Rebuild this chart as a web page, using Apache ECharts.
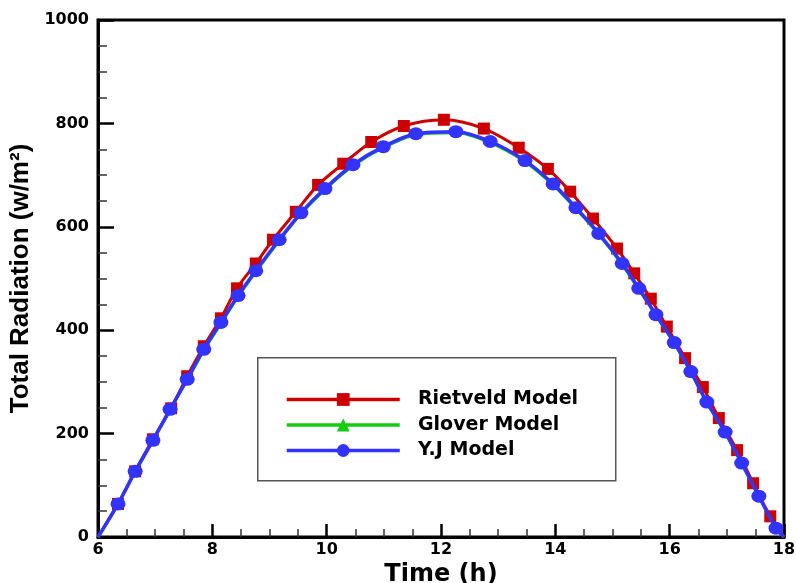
<!DOCTYPE html>
<html>
<head>
<meta charset="utf-8">
<script src="https://cdn.jsdelivr.net/npm/echarts@6/dist/echarts.min.js"></script>
<style>
html,body{margin:0;padding:0;background:#fff;}
#chart{width:796px;height:583px;}
</style>
</head>
<body>
<div id="chart"></div>
<script>
// Data
var rietveldTime = [6, 6.35, 6.65, 6.96, 7.28, 7.56, 7.85, 8.15, 8.43, 8.76, 9.06, 9.46, 9.85, 10.29, 10.78, 11.35, 12.05, 12.75, 13.36, 13.87, 14.26, 14.66, 15.08, 15.38, 15.67, 15.95, 16.27, 16.58, 16.86, 17.18, 17.46, 17.76, 18];
var rietveldValues = [0, 64, 127, 189, 249, 311, 369, 423, 481, 529, 575, 629, 681, 722, 764, 795, 807, 790, 753, 712, 668, 616, 558, 510, 461, 407, 346, 290, 230, 168, 104, 40, 0];

var yjTime = [6, 6.35, 6.65, 6.96, 7.26, 7.56, 7.85, 8.15, 8.45, 8.76, 9.17, 9.55, 9.97, 10.46, 10.99, 11.56, 12.26, 12.86, 13.47, 13.96, 14.36, 14.76, 15.17, 15.46, 15.76, 16.08, 16.37, 16.65, 16.97, 17.26, 17.56, 17.86, 18];
var yjValues = [0, 64, 127, 187, 247, 305, 363, 415, 467, 515, 575, 627, 674, 720, 755, 780, 784, 765, 728, 683, 637, 587, 529, 481, 430, 376, 320, 261, 203, 143, 79, 17, 0];
var gloverValues = [0, 64, 126, 186, 246, 304, 361, 413, 465, 513, 573, 625, 672, 718, 753, 778, 782, 763, 726, 681, 635, 585, 527, 479, 429, 375, 319, 260, 202, 142, 79, 17, 0];

var seriesNames = ['Rietveld Model', 'Glover Model', 'Y.J Model'];
var xTicks = [6, 8, 10, 12, 14, 16, 18];
var yTicks = [0, 200, 400, 600, 800, 1000];

function pairs(xs, ys) {
  return xs.map(function (x, i) {
    var item = { value: [x, ys[i]] };
    if (i === 0 || i === xs.length - 1) item.symbol = 'none';
    return item;
  });
}

var chart = echarts.init(document.getElementById('chart'), null, { renderer: 'canvas' });
var tickFont = { fontFamily: 'DejaVu Sans', fontWeight: 'bold', fontSize: 16, color: '#000' };
var plain = function (v) { return String(v); };

chart.setOption({
  animation: false,
  backgroundColor: '#fff',
  grid: {
    left: 98, right: 12, top: 20, bottom: 46,
    outerBoundsMode: 'none',
    show: true, borderColor: '#000', borderWidth: 3, backgroundColor: 'transparent'
  },
  xAxis: {
    type: 'value', min: xTicks[0], max: xTicks[xTicks.length - 1], interval: 2,
    name: 'Time (h)', nameLocation: 'middle', nameGap: 22,
    nameTextStyle: { fontFamily: 'DejaVu Sans', fontWeight: 'bold', fontSize: 24, color: '#000' },
    axisLine: { show: true, lineStyle: { color: '#000', width: 3 } },
    axisTick: { show: true, inside: true, length: 13, lineStyle: { color: '#000', width: 2.5 } },
    minorTick: { show: true, splitNumber: 4, length: 8, lineStyle: { color: '#333', width: 1.5 } },
    axisLabel: Object.assign({ margin: 5, formatter: plain }, tickFont),
    splitLine: { show: false }
  },
  yAxis: {
    type: 'value', min: yTicks[0], max: yTicks[yTicks.length - 1], interval: 200,
    name: 'Total Radiation (w/m\u00B2)', nameLocation: 'middle', nameGap: 50, nameRotate: 90,
    nameTextStyle: { fontFamily: 'Liberation Sans', fontWeight: 'bold', fontSize: 26, color: '#000' },
    axisLine: { show: true, lineStyle: { color: '#000', width: 3 } },
    axisTick: { show: true, inside: true, length: 16, lineStyle: { color: '#000', width: 2.5 } },
    minorTick: { show: true, splitNumber: 4, length: 9, lineStyle: { color: '#333', width: 1.5 } },
    axisLabel: Object.assign({ margin: 9, formatter: plain }, tickFont),
    splitLine: { show: false }
  },
  legend: {
    orient: 'vertical', left: 285, top: 390, padding: 0,
    itemWidth: 113, itemHeight: 16, itemGap: 6.5, align: 'left',
    data: seriesNames,
    lineStyle: { width: 3.5 },
    formatter: function (n) { return '  ' + n; },
    textStyle: { fontFamily: 'DejaVu Sans', fontWeight: 'bold', fontSize: 19, color: '#000' }
  },
  graphic: [{
    type: 'rect', left: 257, top: 357, z: 0,
    shape: { width: 358, height: 123 },
    style: { fill: '#fff', stroke: '#555', lineWidth: 1.5 }
  }],
  series: [
    {
      name: seriesNames[0], type: 'line', smooth: 0.3, z: 3,
      data: pairs(rietveldTime, rietveldValues),
      symbol: 'rect', symbolSize: 12,
      itemStyle: { color: '#cc0000' },
      lineStyle: { color: '#cc0000', width: 3 }
    },
    {
      name: seriesNames[1], type: 'line', smooth: 0.3, z: 4,
      data: pairs(yjTime, gloverValues),
      symbol: 'triangle', symbolSize: 12, showSymbol: false,
      itemStyle: { color: '#11cc11' },
      lineStyle: { color: '#11cc11', width: 3 }
    },
    {
      name: seriesNames[2], type: 'line', smooth: 0.3, z: 5,
      data: pairs(yjTime, yjValues),
      symbol: 'circle', symbolSize: [15, 13],
      itemStyle: { color: '#3333ff' },
      lineStyle: { color: '#3333ff', width: 3.5 }
    }
  ]
});
</script>
</body>
</html>
